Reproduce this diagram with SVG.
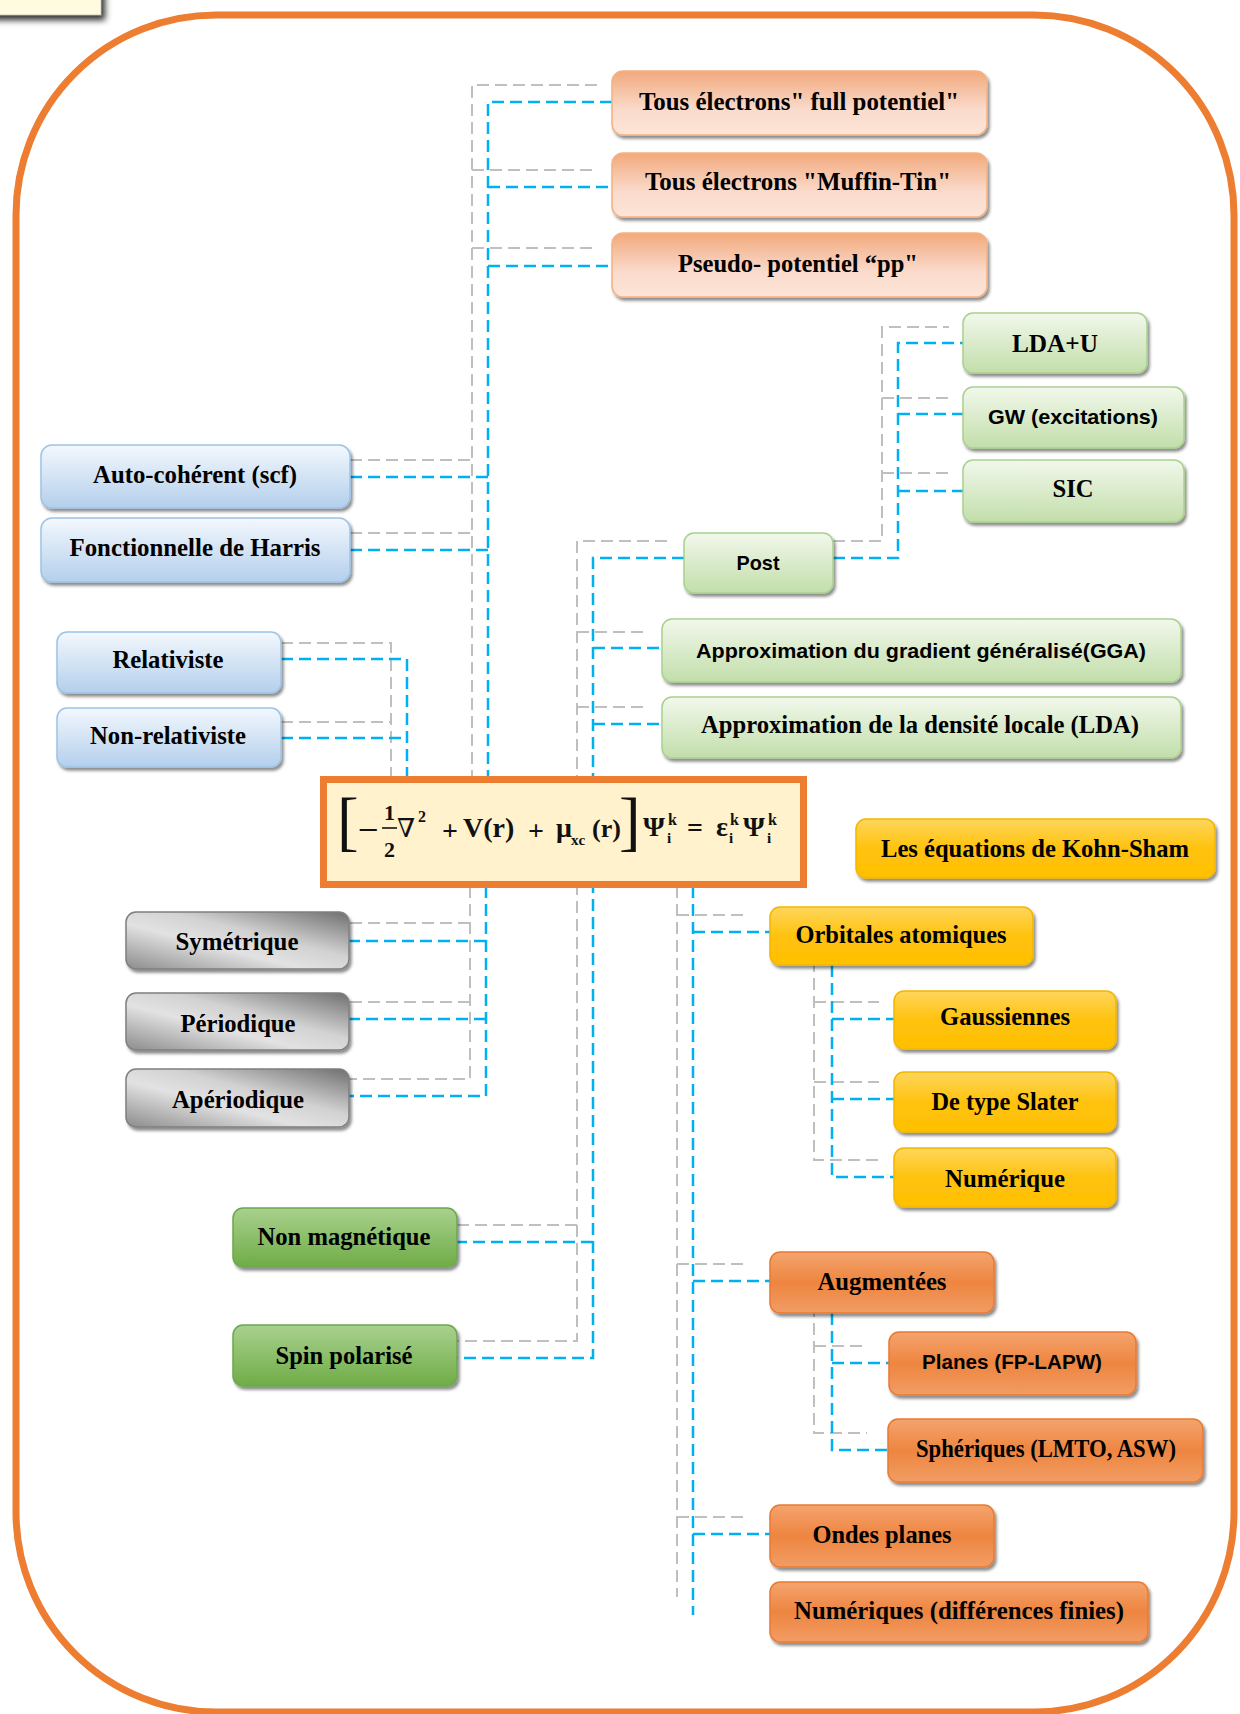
<svg xmlns="http://www.w3.org/2000/svg" width="1240" height="1714" viewBox="0 0 1240 1714">
<style>
.g{fill:none;stroke:#BFBFBF;stroke-width:2;stroke-dasharray:12 6}
.b{fill:none;stroke:#00B0F0;stroke-width:2.5;stroke-dasharray:12 6}
.t{font-family:"Liberation Serif","Times New Roman",serif;font-weight:bold;font-size:26px;fill:#000;text-anchor:middle}
.s{font-family:"Liberation Sans",Arial,sans-serif;font-weight:bold;font-size:21px;fill:#000;text-anchor:middle}
.eq{font-family:"Liberation Serif","DejaVu Serif",serif;font-weight:bold;fill:#111}
.eqn{font-family:"Liberation Serif","DejaVu Serif",serif;font-weight:normal;fill:#111}
.peach{fill:url(#gPeach);stroke:#F4B183;stroke-width:1.5;filter:url(#sh)}
.lgreen{fill:url(#gLGreen);stroke:#A9D18E;stroke-width:1.5;filter:url(#sh)}
.lblue{fill:url(#gLBlue);stroke:#9DC3E6;stroke-width:1.5;filter:url(#sh)}
.gray{fill:url(#gGray);stroke:#7F7F7F;stroke-width:1.5;filter:url(#sh)}
.green{fill:url(#gGreen);stroke:#6AA84F;stroke-width:1.5;filter:url(#sh)}
.yellow{fill:url(#gYellow);stroke:#F2B600;stroke-width:1.5;filter:url(#sh)}
.orange{fill:url(#gOrange);stroke:#E97A32;stroke-width:1.5;filter:url(#sh)}
</style>
<defs>
<filter id="sh" x="-10%" y="-20%" width="120%" height="150%">
<feDropShadow dx="2" dy="3" stdDeviation="1.5" flood-color="#000" flood-opacity="0.45"/>
</filter>
<filter id="sh2" x="-20%" y="-50%" width="150%" height="250%">
<feDropShadow dx="4" dy="5" stdDeviation="3" flood-color="#000" flood-opacity="0.8"/>
</filter>
<linearGradient id="gPeach" x1="0" y1="0" x2="0" y2="1">
<stop offset="0" stop-color="#F1A97C"/><stop offset="0.6" stop-color="#FADACB"/><stop offset="1" stop-color="#FCE6D8"/>
</linearGradient>
<linearGradient id="gLGreen" x1="0" y1="0" x2="0" y2="1">
<stop offset="0" stop-color="#F2F8EC"/><stop offset="1" stop-color="#C2DEAA"/>
</linearGradient>
<linearGradient id="gLBlue" x1="0" y1="0" x2="0" y2="1">
<stop offset="0" stop-color="#F3F8FD"/><stop offset="1" stop-color="#B4CFEC"/>
</linearGradient>
<linearGradient id="gGray" x1="1" y1="0" x2="0" y2="1">
<stop offset="0" stop-color="#6F6F6F"/><stop offset="0.4" stop-color="#D2D2D2"/><stop offset="0.6" stop-color="#E2E2E2"/><stop offset="1" stop-color="#8C8C8C"/>
</linearGradient>
<linearGradient id="gGreen" x1="0" y1="0" x2="0" y2="1">
<stop offset="0" stop-color="#A9D18E"/><stop offset="1" stop-color="#6FAC46"/>
</linearGradient>
<linearGradient id="gYellow" x1="0" y1="0" x2="0" y2="1">
<stop offset="0" stop-color="#FFD65C"/><stop offset="0.5" stop-color="#FFC20E"/><stop offset="1" stop-color="#FFC000"/>
</linearGradient>
<linearGradient id="gOrange" x1="0" y1="0" x2="0" y2="1">
<stop offset="0" stop-color="#F4A46E"/><stop offset="0.5" stop-color="#EE8540"/><stop offset="1" stop-color="#F19D65"/>
</linearGradient>
</defs>

<rect x="-20" y="-20" width="121" height="35" fill="#FFFBE0" stroke="#999" stroke-width="0.5" filter="url(#sh2)"/>
<rect x="16" y="15" width="1218" height="1697" rx="200" ry="200" fill="none" stroke="#ED7D31" stroke-width="7"/>

<g id="connectors">
<path class="g" d="M597,85 H472 V776 M472,170 H597 M472,248 H597 M350,460 H472 M350,533 H472"/>
<path class="b" d="M612,102 H488 V776 M488,187 H612 M488,266 H612 M350,477 H488 M350,550 H488"/>
<path class="g" d="M281,643 H391 V776 M281,722 H391"/>
<path class="b" d="M281,659 H407 V776 M281,738 H407"/>
<path class="g" d="M667,541 H577 V1341 H457 M577,632 H646 M577,707 H646 M577,1225 H457"/>
<path class="b" d="M684,558 H593 V1358 H457 M593,648 H662 M593,724 H662 M593,1242 H457"/>
<path class="g" d="M833,541 H882 V327 H949 M882,398 H949 M882,473 H949"/>
<path class="b" d="M833,558 H898 V343 H963 M898,414 H963 M898,491 H963"/>
<path class="g" d="M470,886 V1079 H349 M470,923 H349 M470,1002 H349"/>
<path class="b" d="M486,886 V1096 H349 M486,941 H349 M486,1019 H349"/>
<path class="g" d="M677,886 V1597 M677,915 H748 M677,1264 H748 M677,1517 H748"/>
<path class="b" d="M693,886 V1615 M693,932 H770 M693,1281 H770 M693,1534 H770"/>
<path class="g" d="M814,960 V1160 H879 M814,1002 H879 M814,1082 H879"/>
<path class="b" d="M832,965 V1177 H894 M832,1019 H894 M832,1099 H894"/>
<path class="g" d="M814,1305 V1433 H867 M814,1346 H867"/>
<path class="b" d="M832,1313 V1450 H889 M832,1363 H889"/>
</g>

<g id="n-full-potentiel"><rect class="peach" x="612" y="71" width="375" height="64" rx="11"/><text class="t" x="799" y="110" textLength="320" lengthAdjust="spacingAndGlyphs">Tous électrons" full potentiel"</text></g>
<g id="n-muffin-tin"><rect class="peach" x="612" y="153" width="375" height="64" rx="11"/><text class="t" x="798" y="190" textLength="306" lengthAdjust="spacingAndGlyphs">Tous électrons "Muffin-Tin"</text></g>
<g id="n-pseudo"><rect class="peach" x="612" y="233" width="375" height="64" rx="11"/><text class="t" x="798" y="272" textLength="240" lengthAdjust="spacingAndGlyphs">Pseudo- potentiel “pp"</text></g>

<g id="n-ldau"><rect class="lgreen" x="963" y="313" width="184" height="60" rx="10"/><text class="t" x="1055" y="352" textLength="86" lengthAdjust="spacingAndGlyphs">LDA+U</text></g>
<g id="n-gw"><rect class="lgreen" x="963" y="387" width="221" height="61" rx="10"/><text class="s" x="1073" y="424" textLength="170" lengthAdjust="spacingAndGlyphs">GW (excitations)</text></g>
<g id="n-sic"><rect class="lgreen" x="963" y="460" width="221" height="62" rx="10"/><text class="t" x="1073" y="497" textLength="41" lengthAdjust="spacingAndGlyphs">SIC</text></g>
<g id="n-post"><rect class="lgreen" x="684" y="533" width="149" height="60" rx="10"/><text class="s" x="758" y="570" textLength="43" lengthAdjust="spacingAndGlyphs">Post</text></g>
<g id="n-gga"><rect class="lgreen" x="662" y="619" width="519" height="63" rx="10"/><text class="s" x="921" y="658" textLength="450" lengthAdjust="spacingAndGlyphs">Approximation du gradient généralisé(GGA)</text></g>
<g id="n-lda"><rect class="lgreen" x="662" y="697" width="519" height="61" rx="10"/><text class="t" x="920" y="733" textLength="438" lengthAdjust="spacingAndGlyphs">Approximation de la densité locale (LDA)</text></g>

<g id="n-scf"><rect class="lblue" x="41" y="445" width="309" height="63" rx="11"/><text class="t" x="195" y="483" textLength="204" lengthAdjust="spacingAndGlyphs">Auto-cohérent (scf)</text></g>
<g id="n-harris"><rect class="lblue" x="41" y="518" width="309" height="64" rx="11"/><text class="t" x="195" y="556" textLength="251" lengthAdjust="spacingAndGlyphs">Fonctionnelle de Harris</text></g>
<g id="n-relat"><rect class="lblue" x="57" y="632" width="224" height="61" rx="10"/><text class="t" x="168" y="668" textLength="111" lengthAdjust="spacingAndGlyphs">Relativiste</text></g>
<g id="n-nonrelat"><rect class="lblue" x="57" y="708" width="224" height="59" rx="10"/><text class="t" x="168" y="744" textLength="156" lengthAdjust="spacingAndGlyphs">Non-relativiste</text></g>

<g id="equation">
<rect x="323.5" y="779.5" width="480" height="105" fill="#FFF2CC" stroke="#ED7D31" stroke-width="7"/>
<text class="eqn" x="337" y="843" font-size="65">[</text>
<text class="eq" x="358" y="839" font-size="28" textLength="21" lengthAdjust="spacingAndGlyphs">−</text>
<text class="eq" x="384" y="820" font-size="22">1</text>
<line x1="382" y1="828" x2="397" y2="828" stroke="#111" stroke-width="1.6"/>
<text class="eq" x="384" y="857" font-size="22">2</text>
<text class="eqn" x="397" y="837" font-size="26">∇</text>
<text class="eq" x="418" y="822" font-size="16">2</text>
<text class="eq" x="442" y="840" font-size="28">+</text>
<text class="eq" x="463" y="837" font-size="28">V(r)</text>
<text class="eq" x="528" y="840" font-size="28">+</text>
<text class="eq" x="556" y="837" font-size="28">μ</text>
<text class="eq" x="571" y="845" font-size="15">xc</text>
<text class="eq" x="592" y="837" font-size="26">(r)</text>
<text class="eqn" x="619" y="843" font-size="65">]</text>
<text class="eq" x="643" y="836" font-size="28">Ψ</text>
<text class="eq" x="668" y="825" font-size="16">k</text>
<text class="eq" x="667" y="843" font-size="15">i</text>
<text class="eq" x="687" y="837" font-size="28">=</text>
<text class="eq" x="716" y="836" font-size="28">ε</text>
<text class="eq" x="730" y="825" font-size="16">k</text>
<text class="eq" x="729" y="843" font-size="15">i</text>
<text class="eq" x="743" y="836" font-size="28">Ψ</text>
<text class="eq" x="768" y="825" font-size="16">k</text>
<text class="eq" x="767" y="843" font-size="15">i</text>
</g>

<g id="n-sym"><rect class="gray" x="126" y="912" width="223" height="57" rx="10"/><text class="t" x="237" y="950" textLength="123" lengthAdjust="spacingAndGlyphs">Symétrique</text></g>
<g id="n-per"><rect class="gray" x="126" y="993" width="223" height="57" rx="10"/><text class="t" x="238" y="1032" textLength="115" lengthAdjust="spacingAndGlyphs">Périodique</text></g>
<g id="n-aper"><rect class="gray" x="126" y="1069" width="223" height="58" rx="10"/><text class="t" x="238" y="1108" textLength="132" lengthAdjust="spacingAndGlyphs">Apériodique</text></g>

<g id="n-nonmag"><rect class="green" x="233" y="1208" width="224" height="59" rx="10"/><text class="t" x="344" y="1245" textLength="173" lengthAdjust="spacingAndGlyphs">Non magnétique</text></g>
<g id="n-spin"><rect class="green" x="233" y="1325" width="224" height="61" rx="10"/><text class="t" x="344" y="1364" textLength="137" lengthAdjust="spacingAndGlyphs">Spin polarisé</text></g>

<g id="n-kohn"><rect class="yellow" x="856" y="819" width="359" height="59" rx="10"/><text class="t" x="1035" y="857" textLength="308" lengthAdjust="spacingAndGlyphs">Les équations de Kohn-Sham</text></g>
<g id="n-orb"><rect class="yellow" x="770" y="907" width="263" height="58" rx="10"/><text class="t" x="901" y="943" textLength="211" lengthAdjust="spacingAndGlyphs">Orbitales atomiques</text></g>
<g id="n-gauss"><rect class="yellow" x="894" y="991" width="222" height="58" rx="10"/><text class="t" x="1005" y="1025" textLength="130" lengthAdjust="spacingAndGlyphs">Gaussiennes</text></g>
<g id="n-slater"><rect class="yellow" x="894" y="1072" width="222" height="60" rx="10"/><text class="t" x="1005" y="1110" textLength="147" lengthAdjust="spacingAndGlyphs">De type Slater</text></g>
<g id="n-num"><rect class="yellow" x="894" y="1148" width="222" height="59" rx="10"/><text class="t" x="1005" y="1187" textLength="120" lengthAdjust="spacingAndGlyphs">Numérique</text></g>

<g id="n-augm"><rect class="orange" x="770" y="1252" width="224" height="61" rx="10"/><text class="t" x="882" y="1290" textLength="129" lengthAdjust="spacingAndGlyphs">Augmentées</text></g>
<g id="n-planes"><rect class="orange" x="889" y="1332" width="247" height="63" rx="10"/><text class="s" x="1012" y="1369" textLength="180" lengthAdjust="spacingAndGlyphs">Planes (FP-LAPW)</text></g>
<g id="n-spher"><rect class="orange" x="888" y="1419" width="315" height="63" rx="10"/><text class="t" x="1046" y="1457" font-size="23" textLength="260" lengthAdjust="spacingAndGlyphs">Sphériques (LMTO, ASW)</text></g>
<g id="n-ondes"><rect class="orange" x="770" y="1505" width="224" height="62" rx="10"/><text class="t" x="882" y="1543" textLength="139" lengthAdjust="spacingAndGlyphs">Ondes planes</text></g>
<g id="n-numdiff"><rect class="orange" x="770" y="1582" width="378" height="60" rx="10"/><text class="t" x="959" y="1619" textLength="330" lengthAdjust="spacingAndGlyphs">Numériques (différences finies)</text></g>
</svg>
